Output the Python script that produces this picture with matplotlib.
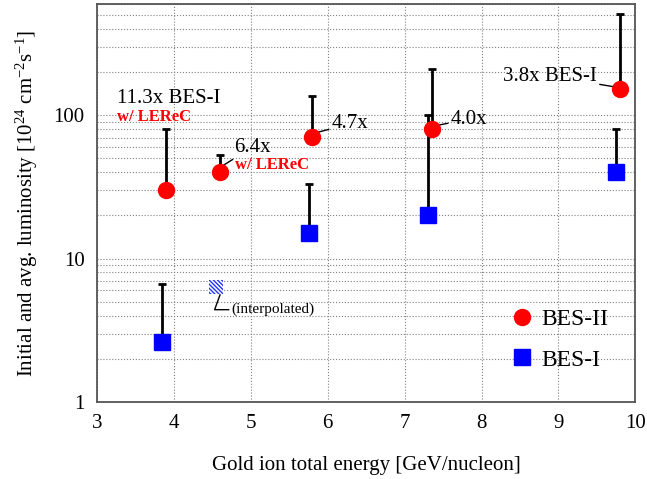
import matplotlib.pyplot as plt
import numpy as np
from matplotlib.ticker import LogLocator, FixedLocator, NullFormatter

plt.rcParams['font.family'] = ['Liberation Serif', 'DejaVu Serif']
plt.rcParams['mathtext.fontset'] = 'custom'
plt.rcParams['mathtext.rm'] = 'Liberation Serif'
plt.rcParams['mathtext.it'] = 'Liberation Serif:italic'
plt.rcParams['hatch.linewidth'] = 1.0

# BES-II (red circles): energy, luminosity, upper end of bar
e2 = [3.9, 4.6, 5.8, 7.35, 9.8]
l2 = [30, 40, 71, 80, 152]
t2 = [80, 53, 137, 210, 510]

# BES-I (blue squares)
e1 = [3.85, 5.75, 7.3, 9.75]
l1 = [2.6, 15, 20, 40]
t1 = [6.6, 33, 100, 80]

# interpolated BES-I point
e_int = 4.55
l_int = 6.3

fig = plt.figure(figsize=(6.47, 4.79), dpi=100)
ax = fig.add_axes([0.150, 0.161, 0.832, 0.831])

ax.set_yscale('log')
ax.set_xlim(3, 10)
ax.set_ylim(1, 600)

ax.errorbar(e2, l2, yerr=[np.zeros(len(l2)), np.array(t2) - np.array(l2)],
            fmt='none', ecolor='black', elinewidth=2, capsize=3, capthick=2, zorder=3)
ax.errorbar(e1, l1, yerr=[np.zeros(len(l1)), np.array(t1) - np.array(l1)],
            fmt='none', ecolor='black', elinewidth=2, capsize=3, capthick=2, zorder=3)
ax.plot(e2, l2, 'o', color='red', markersize=11.5, zorder=4, label='BES-II', linestyle='none')
ax.plot(e1, l1, 's', color='blue', markersize=11, zorder=4, label='BES-I', linestyle='none')
ax.scatter([e_int], [l_int], marker='s', s=100, facecolor='white', edgecolor='#2233ff',
           hatch='\\' * 8, linewidth=0, zorder=4)

fs = 15
ax.text(3.26, 130, '11.3x BES-I', fontsize=fs, ha='left', va='center')
ax.text(3.26, 97, 'w/ LEReC', fontsize=12, color='red', fontweight='bold', ha='left', va='center')
ax.annotate('6.4x', xy=(4.62, 44), xytext=(4.78, 60), fontsize=fs, ha='left', va='center',
            arrowprops=dict(arrowstyle='-', color='black', lw=1, shrinkA=0, shrinkB=0))
ax.text(4.8, 45, 'w/ LEReC', fontsize=12, color='red', fontweight='bold', ha='left', va='center')
ax.annotate('4.7x', xy=(5.82, 75), xytext=(6.05, 87), fontsize=fs, ha='left', va='center',
            arrowprops=dict(arrowstyle='-', color='black', lw=1, shrinkA=0, shrinkB=0))
ax.annotate('4.0x', xy=(7.37, 84), xytext=(7.6, 94), fontsize=fs, ha='left', va='center',
            arrowprops=dict(arrowstyle='-', color='black', lw=1, shrinkA=0, shrinkB=0))
ax.annotate('3.8x BES-I', xy=(9.79, 156), xytext=(9.5, 188), fontsize=fs, ha='right', va='center',
            arrowprops=dict(arrowstyle='-', color='black', lw=1, shrinkA=0, shrinkB=0))
ax.annotate('(interpolated)', xy=(4.6, 5.6), xytext=(4.75, 4.4), fontsize=11, ha='left', va='center',
            arrowprops=dict(arrowstyle='-', color='black', lw=1, shrinkA=0, shrinkB=0,
                            connectionstyle='angle,angleA=0,angleB=70,rad=0'))

ax.xaxis.set_major_locator(FixedLocator(range(3, 11)))
ax.yaxis.set_major_locator(FixedLocator([1, 10, 100]))
ax.yaxis.set_major_formatter(plt.FuncFormatter(lambda v, p: '%d' % v))
ax.yaxis.set_minor_locator(LogLocator(base=10, subs=np.arange(2, 10)))
ax.yaxis.set_minor_formatter(NullFormatter())
ax.tick_params(which='both', length=0, labelsize=15, pad=9)
ax.grid(True, which='major', axis='x', color='gray', linestyle=':', linewidth=0.8)
ax.grid(True, which='both', axis='y', color='gray', linestyle=':', linewidth=0.8)
for s in ax.spines.values():
    s.set_color('#555555')
    s.set_linewidth(1.3)

ax.set_xlabel('Gold ion total energy [GeV/nucleon]', fontsize=15, labelpad=16)
ax.set_ylabel('Initial and avg. luminosity [10$^{24}$ cm$^{-2}$s$^{-1}$]', fontsize=15, labelpad=10)

ax.legend(loc='lower right', bbox_to_anchor=(0.99, 0.025), frameon=False, fontsize=17,
          handletextpad=0.1, labelspacing=0.8, handlelength=1.5)

fig.savefig('out.png', dpi=100)
